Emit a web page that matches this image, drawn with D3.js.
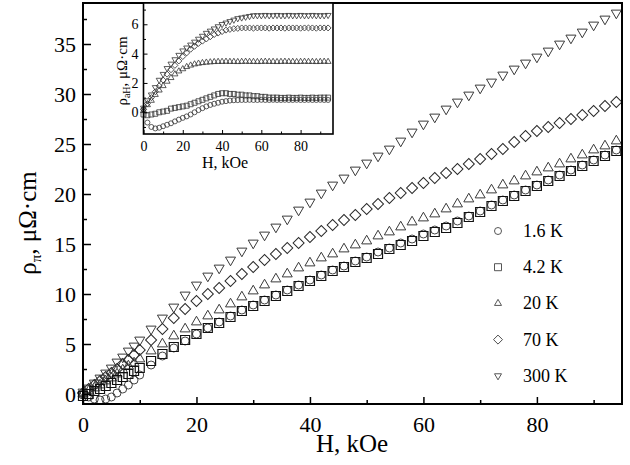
<!DOCTYPE html>
<html><head><meta charset="utf-8">
<script src="https://cdn.jsdelivr.net/npm/d3@7"></script>
<style>body{margin:0;background:#fff}svg{display:block}</style>
</head><body>
<svg id="c" width="630" height="465"></svg>
<script>
// ---------- DATA ----------
const fieldMain = [0,1,2,3,4,5,6,7,8,9,10,12,14,16,18,20,22,24,26,28,30,32,34,36,38,40,42,44,46,48,50,52,54,56,58,60,62,64,66,68,70,72,74,76,78,80,82,84,86,88,90,92,94];
const rho16 = [-0.1,-0.3,-0.5,-0.6,-0.5,-0.3,0.1,0.5,0.9,1.4,1.9,2.9,3.8,4.6,5.3,6.0,6.6,7.2,7.8,8.4,8.9,9.4,9.9,10.4,10.9,11.4,11.9,12.4,12.8,13.3,13.7,14.2,14.6,15.1,15.5,16.0,16.4,16.8,17.3,17.8,18.3,18.9,19.4,19.9,20.4,20.9,21.4,21.9,22.4,22.9,23.4,23.9,24.4];
const rho42 = [-0.2,0.0,0.3,0.5,0.8,1.1,1.4,1.7,2.0,2.3,2.6,3.3,4.0,4.7,5.4,6.0,6.6,7.1,7.7,8.3,8.8,9.3,9.8,10.3,10.8,11.3,11.8,12.3,12.7,13.2,13.6,14.0,14.5,14.9,15.3,15.8,16.2,16.6,17.1,17.7,18.2,18.8,19.3,19.8,20.3,20.8,21.3,21.8,22.3,22.8,23.3,23.8,24.3];
const rho20 = [0.0,0.3,0.6,0.9,1.3,1.6,2.0,2.4,2.8,3.1,3.5,4.3,5.0,5.8,6.5,7.2,7.8,8.4,9.0,9.7,10.3,10.9,11.5,12.0,12.6,13.1,13.6,14.0,14.5,14.9,15.3,15.8,16.2,16.7,17.2,17.6,18.0,18.5,19.0,19.5,19.9,20.4,20.9,21.3,21.8,22.2,22.6,23.0,23.5,23.9,24.4,24.8,25.3];
const rho70 = [0.1,0.5,0.9,1.3,1.7,2.1,2.5,3.0,3.4,3.9,4.4,5.4,6.5,7.6,8.5,9.3,10.0,10.6,11.3,12.0,12.7,13.4,14.0,14.6,15.1,15.7,16.3,16.9,17.4,17.9,18.5,19.0,19.6,20.1,20.6,21.1,21.6,22.1,22.5,23.0,23.5,24.0,24.5,25.2,25.8,26.3,26.7,27.1,27.5,27.9,28.3,28.8,29.2];
const rho300 = [0.2,0.6,1.1,1.6,2.1,2.6,3.2,3.7,4.3,4.8,5.4,6.5,7.6,8.7,9.9,10.9,11.8,12.6,13.4,14.3,15.1,15.9,16.7,17.5,18.4,19.2,20.1,20.9,21.6,22.4,23.1,23.8,24.5,25.3,26.2,27.0,27.7,28.5,29.2,29.9,30.6,31.2,31.9,32.5,33.1,33.7,34.3,35.0,35.6,36.2,36.9,37.5,38.1];

const fieldInset = [0,2,4,6,8,10,12,14,16,18,20,22,24,26,28,30,32,34,36,38,40,42,44,46,48,50,52,54,56,58,60,62,64,66,68,70,72,74,76,78,80,82,84,86,88,90,92,94];
const aH16 = [0.2,-0.7,-1.0,-1.1,-1.05,-0.95,-0.85,-0.75,-0.62,-0.5,-0.38,-0.28,-0.15,0.0,0.15,0.28,0.4,0.5,0.58,0.65,0.72,0.76,0.8,0.82,0.83,0.84,0.84,0.85,0.84,0.84,0.85,0.84,0.84,0.85,0.84,0.84,0.85,0.84,0.84,0.85,0.84,0.84,0.85,0.84,0.84,0.85,0.84,0.84];
const aH42 = [-0.15,-0.2,-0.15,-0.1,0.0,0.05,0.1,0.25,0.3,0.35,0.4,0.45,0.55,0.65,0.75,0.85,0.95,1.05,1.15,1.25,1.3,1.3,1.25,1.25,1.2,1.2,1.15,1.15,1.1,1.1,1.05,1.05,1.0,1.0,1.0,0.98,0.98,1.0,0.98,0.98,1.0,0.98,0.98,1.0,0.98,1.0,1.0,1.0];
const aH20 = [0.1,0.5,0.8,1.2,1.5,1.8,2.1,2.35,2.6,2.8,2.95,3.1,3.2,3.28,3.33,3.37,3.4,3.42,3.44,3.45,3.45,3.46,3.45,3.45,3.44,3.45,3.46,3.45,3.45,3.44,3.45,3.46,3.45,3.45,3.44,3.45,3.46,3.45,3.45,3.44,3.45,3.46,3.45,3.45,3.44,3.45,3.46,3.45];
const aH70 = [0.2,0.6,1.0,1.4,1.8,2.2,2.6,2.9,3.2,3.5,3.8,4.05,4.3,4.5,4.7,4.85,5.0,5.15,5.3,5.4,5.5,5.6,5.65,5.7,5.72,5.75,5.75,5.75,5.73,5.75,5.75,5.75,5.73,5.75,5.75,5.75,5.73,5.75,5.75,5.75,5.73,5.75,5.75,5.75,5.73,5.75,5.75,5.75];
const aH300 = [0.3,0.8,1.2,1.7,2.2,2.6,3.0,3.3,3.6,3.9,4.2,4.4,4.6,4.8,5.0,5.2,5.4,5.55,5.7,5.85,6.0,6.1,6.2,6.3,6.4,6.45,6.5,6.55,6.6,6.6,6.6,6.62,6.6,6.6,6.62,6.6,6.6,6.62,6.6,6.6,6.62,6.6,6.6,6.62,6.6,6.6,6.6,6.62];

const legendLabels = ["1.6 K","4.2 K","20 K","70 K","300 K"];
const symbolKinds = ["circle","square","up","diamond","down"];
const xTicksMain = [0,20,40,60,80];
const xMinorMain = [10,30,50,70,90];
const yTicksMain = [0,5,10,15,20,25,30,35];
const yMinorMain = [2.5,7.5,12.5,17.5,22.5,27.5,32.5,37.5];
const xTicksInset = [0,20,40,60,80];
const xMinorInset = [10,30,50,70,90];
const yTicksInset = [0,2,4,6];
const yMinorInset = [-1,1,3,5,7];

// ---------- SETUP ----------
const svg = d3.select("#c");
const FONT = "'Liberation Serif','Times New Roman',serif";
svg.append("rect").attr("width",630).attr("height",465).attr("fill","#fff");

function symbolPath(kind, s) {
  if (kind === "circle") return d3.symbol(d3.symbolCircle, Math.PI*(s/2)*(s/2))();
  if (kind === "square") return d3.symbol(d3.symbolSquare, s*s)();
  if (kind === "diamond") { const a = s/Math.SQRT2; return d3.symbol(d3.symbolSquare, a*a)(); }
  return d3.symbol(d3.symbolTriangle, Math.sqrt(3)/4*s*s)();
}
function symbolTransform(kind, x, y) {
  if (kind === "diamond") return `translate(${x},${y}) rotate(45)`;
  if (kind === "down") return `translate(${x},${y}) rotate(180)`;
  return `translate(${x},${y})`;
}

// ---------- MAIN PLOT ----------
const xM = d3.scaleLinear([0,95],[83,622]);
const yM = d3.scaleLinear([-1.0,39.1],[404,3]);

const gMain = svg.append("g");
const mainSeries = [
  {kind:"down", vals:rho300, size:10, stroke:"#3a3a3a", sw:1},
  {kind:"diamond", vals:rho70, size:11, stroke:"#2a2a2a", sw:1},
  {kind:"up", vals:rho20, size:10, stroke:"#3a3a3a", sw:1},
  {kind:"circle", vals:rho16, size:8, stroke:"#444", sw:1},
  {kind:"square", vals:rho42, size:9, stroke:"#111", sw:1.2}
];
mainSeries.forEach(s => {
  gMain.append("g").selectAll("path").data(fieldMain.map((h,i)=>[h,s.vals[i]])).join("path")
    .attr("d", symbolPath(s.kind, s.size))
    .attr("transform", d => symbolTransform(s.kind, xM(d[0]), yM(d[1])))
    .attr("fill","none").attr("stroke",s.stroke).attr("stroke-width",s.sw);
});

function styleAxis(g) { g.select(".domain").remove(); g.selectAll("line").attr("stroke","#000").attr("stroke-width",1.5); }
const axB = svg.append("g").attr("transform","translate(0,404)")
  .call(d3.axisBottom(xM).tickValues(xTicksMain).tickSize(-7).tickFormat(d3.format("d")));
styleAxis(axB);
axB.selectAll("text").attr("y",28).attr("dy",null).attr("font-family",FONT).attr("font-size",22).attr("fill","#000");
const axBm = svg.append("g").attr("transform","translate(0,404)")
  .call(d3.axisBottom(xM).tickValues(xMinorMain).tickSize(-4).tickFormat(""));
styleAxis(axBm);

const axL = svg.append("g").attr("transform","translate(83,0)")
  .call(d3.axisLeft(yM).tickValues(yTicksMain).tickSize(-8).tickFormat(d3.format("d")));
styleAxis(axL);
axL.selectAll("text").attr("x",-7).attr("dy","0.33em").attr("font-family",FONT).attr("font-size",22).attr("fill","#000");
const axLm = svg.append("g").attr("transform","translate(83,0)")
  .call(d3.axisLeft(yM).tickValues(yMinorMain).tickSize(-4).tickFormat(""));
styleAxis(axLm);

svg.append("rect").attr("x",83).attr("y",3).attr("width",622-83).attr("height",404-3)
  .attr("fill","none").attr("stroke","#000").attr("stroke-width",2);

svg.append("text").attr("x",352).attr("y",452).attr("text-anchor","middle")
  .attr("font-family",FONT).attr("font-size",25).text("H, kOe");
const yt = svg.append("text").attr("transform","translate(36,223) rotate(-90)").attr("text-anchor","middle")
  .attr("font-family",FONT).attr("font-size",25);
yt.append("tspan").text("ρ");
yt.append("tspan").attr("font-size",15).attr("dy",5).text("π");
yt.append("tspan").attr("dy",-5).text(", μΩ·cm");

const leg = svg.append("g");
legendLabels.forEach((lab,i) => {
  const cy = 231 + i*36.2;
  const kind = symbolKinds[i];
  leg.append("path").attr("d", symbolPath(kind, kind==="diamond"?9:7))
    .attr("transform", symbolTransform(kind, 498, cy))
    .attr("fill","none").attr("stroke","#444").attr("stroke-width",0.9);
  leg.append("text").attr("x",523).attr("y",cy+6).attr("font-family",FONT).attr("font-size",18).text(lab);
});

// ---------- INSET ----------
const xI = d3.scaleLinear([0,96.5],[143.5,333]);
const yI = d3.scaleLinear([-1.48,7.45],[134,3]);
svg.append("rect").attr("x",143.5).attr("y",3).attr("width",333-143.5).attr("height",131).attr("fill","#fff");
const gIn = svg.append("g");
const insetSeries = [
  {kind:"circle", vals:aH16, size:5},
  {kind:"square", vals:aH42, size:5},
  {kind:"up", vals:aH20, size:6},
  {kind:"diamond", vals:aH70, size:6},
  {kind:"down", vals:aH300, size:6}
];
insetSeries.forEach(s => {
  gIn.append("g").selectAll("path").data(fieldInset.map((h,i)=>[h,s.vals[i]])).join("path")
    .attr("d", symbolPath(s.kind, s.size))
    .attr("transform", d => symbolTransform(s.kind, xI(d[0]), yI(d[1])))
    .attr("fill","none").attr("stroke","#333").attr("stroke-width",0.8);
});
const iaB = svg.append("g").attr("transform","translate(0,134)")
  .call(d3.axisBottom(xI).tickValues(xTicksInset).tickSize(-4).tickFormat(d3.format("d")));
styleAxis(iaB);
iaB.selectAll("line").attr("stroke-width",1);
iaB.selectAll("text").attr("y",16.5).attr("dy",null).attr("font-family",FONT).attr("font-size",14).attr("fill","#000");
const iaBm = svg.append("g").attr("transform","translate(0,134)")
  .call(d3.axisBottom(xI).tickValues(xMinorInset).tickSize(-2.5).tickFormat(""));
styleAxis(iaBm); iaBm.selectAll("line").attr("stroke-width",1);
const iaL = svg.append("g").attr("transform","translate(143.5,0)")
  .call(d3.axisLeft(yI).tickValues(yTicksInset).tickSize(-4).tickFormat(d3.format("d")));
styleAxis(iaL);
iaL.selectAll("line").attr("stroke-width",1);
iaL.selectAll("text").attr("x",-5).attr("dy","0.33em").attr("font-family",FONT).attr("font-size",14).attr("fill","#000");
const iaLm = svg.append("g").attr("transform","translate(143.5,0)")
  .call(d3.axisLeft(yI).tickValues(yMinorInset).tickSize(-2.5).tickFormat(""));
styleAxis(iaLm); iaLm.selectAll("line").attr("stroke-width",1);
svg.append("rect").attr("x",143.5).attr("y",3).attr("width",333-143.5).attr("height",131)
  .attr("fill","none").attr("stroke","#000").attr("stroke-width",1.6);
svg.append("text").attr("x",225).attr("y",168).attr("text-anchor","middle")
  .attr("font-family",FONT).attr("font-size",16).text("H, kOe");
const iyt = svg.append("text").attr("transform","translate(127,71) rotate(-90)").attr("text-anchor","middle")
  .attr("font-family",FONT).attr("font-size",15);
iyt.append("tspan").text("ρ");
iyt.append("tspan").attr("font-size",10).attr("dy",3).text("aH");
iyt.append("tspan").attr("dy",-3).text(", μΩ·cm");
</script>
</body></html>
